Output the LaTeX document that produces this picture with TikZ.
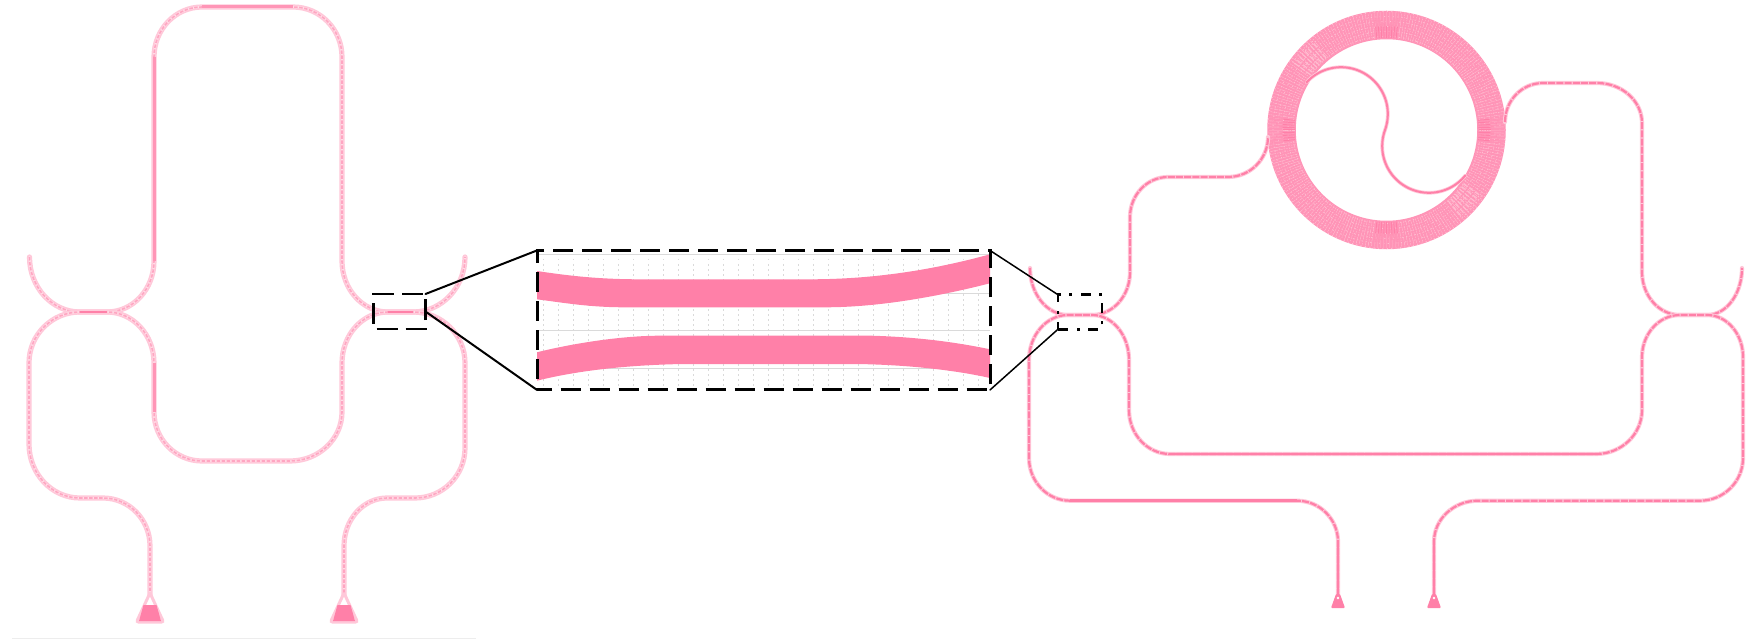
\documentclass[tikz,border=0pt]{standalone}
\usetikzlibrary{calc}
\definecolor{wgcore}{HTML}{FF80A8}
\definecolor{wghalo}{HTML}{FFC8D9}
\definecolor{wgpale}{HTML}{FFDDE7}
\definecolor{wgmid}{HTML}{FFA6C2}
\definecolor{wgstrong}{HTML}{FF95B6}
\definecolor{ringbase}{HTML}{FF94B7}
\definecolor{ringlight}{HTML}{FFBDD1}
\definecolor{gridgrey}{HTML}{DADADA}
\tikzset{
  vh/.style={to path={.. controls ($(\tikztostart)!.5523!(\tikztostart|-\tikztotarget)$) and ($(\tikztotarget)!.5523!(\tikztostart|-\tikztotarget)$) .. (\tikztotarget)}},
  hv/.style={to path={.. controls ($(\tikztostart)!.5523!(\tikztotarget|-\tikztostart)$) and ($(\tikztotarget)!.5523!(\tikztotarget|-\tikztostart)$) .. (\tikztotarget)}},
  lhalo/.style={wghalo,line width=5.2,line cap=round,line join=round},
  lpale/.style={wgpale,line width=2.2,line cap=round},
  lcore/.style={wgmid,line width=1.6,dash pattern=on 3.5 off 1.5},
  lstrong/.style={wgstrong,line width=3},
  rhalo/.style={wghalo,line width=4.2,line cap=round,line join=round},
  rcore/.style={wgcore,line width=2.2,dash pattern=on 7 off 1.2},
  rstrong/.style={wgcore,line width=2.6},
  zoomline/.style={black,line width=2,line cap=round},
  zoomthin/.style={black,line width=1.5,line cap=round},
  dashbox/.style={draw=black,line width=2.6,dash pattern=on 21 off 8,dash phase=26,inner sep=0pt,outer sep=0pt},
  bigbox/.style={draw=black,line width=3,dash pattern=on 20 off 9,dash phase=5.5,inner sep=0pt,outer sep=0pt},
  dotbox/.style={draw=black,line width=2.6,dash pattern=on 10 off 9 on 3 off 8,inner sep=0pt,outer sep=0pt},
  band/.style={fill=wgcore,draw=none},
}
\newcommand{\leftwg}[1]{\draw[lhalo] #1; \draw[lpale] #1; \draw[lcore] #1;}
\newcommand{\rightwg}[1]{\draw[rhalo] #1; \draw[rcore] #1;}
\begin{document}
\begin{tikzpicture}[x=1pt,y=-1pt]
\useasboundingbox (0,0) rectangle (1762,639);
\fill[white] (0,0) rectangle (1762,639);
\draw[black!7,line width=1] (12,638) -- (476,638);

% ---------- left device
\leftwg{(29.5,257) to[vh] (80,312) -- (107,312) to[hv] (154,261) -- (154,57) to[vh] (202,7) -- (293,7) to[hv] (342,57) -- (342,261) to[vh] (388,312) -- (413,312) to[hv] (465,257)}
\leftwg{(150,596) -- (150,546) to[vh] (103,498) -- (80,498) to[hv] (29,444) -- (29,363) to[vh] (80,312) -- (107,312) to[hv] (154,363) -- (154,412) to[vh] (202,461) -- (290,461) to[hv] (342,412) -- (342,363) to[vh] (388,312) -- (413,312) to[hv] (465,363) -- (465,448) to[vh] (415,498) -- (387,498) to[hv] (344,546) -- (344,596)}
\draw[lstrong] (154,57) -- (154,261);
\draw[lstrong] (154,363) -- (154,412);
\draw[lstrong] (202,7) -- (293,7);
\draw[wgcore,line width=1.8] (80,312) -- (107,312);
\draw[wgcore,line width=1.8] (388,312) -- (413,312);
\foreach \tx in {150,344}{
  \fill[white,draw=wghalo,line width=3,rounded corners=2] (\tx,593) -- (\tx+13.5,622) -- (\tx-13.5,622) -- cycle;
  \fill[wgcore] (\tx-6.5,605) -- (\tx+6.5,605) -- (\tx+11,621) -- (\tx-11,621) -- cycle;
}

% ---------- right device: ring
\draw[ringbase,line width=28.5] (1386.5,130) circle[radius=105];
\foreach \a in {0,1.5,...,358.5}{
  \draw[ringlight,line width=.5] ({1386.5+92*cos(\a)},{130+92*sin(\a)}) -- ({1386.5+118*cos(\a)},{130+118*sin(\a)});
}
\foreach \r in {92.5,95,...,117.5}{
  \draw[ringbase,line width=1.2,dash pattern=on 1.3 off 1.1] (1386.5,130) circle[radius=\r];
}
\foreach \r in {93.5,98.5,...,118.5}{
  \draw[ringlight,line width=.8,dash pattern=on 1.1 off 3.3] (1386.5,130) circle[radius=\r];
}
\foreach \c in {0,90,180,270}{
  \foreach \d in {-6,-4.5,...,6}{
    \draw[wgcore,line width=1] ({1386.5+92*cos(\c+\d)},{130+92*sin(\c+\d)}) -- ({1386.5+(104+abs(\d)*2.2)*cos(\c+\d)},{130+(104+abs(\d)*2.2)*sin(\c+\d)});
    \draw[wgcore!75!white,line width=.9] ({1386.5+104*cos(\c+\d)},{130+104*sin(\c+\d)}) -- ({1386.5+118*cos(\c+\d)},{130+118*sin(\c+\d)});
  }
}
\foreach \c in {-137,42}{
  \foreach \d in {-7,-5,...,7}{
    \draw[ringlight,line width=1.1,dash pattern=on 5 off 2] ({1386.5+94*cos(\c+\d)},{130+94*sin(\c+\d)}) -- ({1386.5+116*cos(\c+\d)},{130+116*sin(\c+\d)});
  }
}
\draw[wghalo,line width=3.6,line cap=round] plot[domain=-137:20,samples=50] ({1341+46.8*cos(\x)},{114+46.8*sin(\x)}) -- plot[domain=200:39,samples=50] ({1429+46.8*cos(\x)},{146+46.8*sin(\x)});
\draw[wgcore,line width=2,line cap=round] plot[domain=-137:20,samples=50] ({1341+46.8*cos(\x)},{114+46.8*sin(\x)}) -- plot[domain=200:39,samples=50] ({1429+46.8*cos(\x)},{146+46.8*sin(\x)});

% ---------- right device: guides
\rightwg{(1030,268) to[vh] (1068,315) -- (1092,315) to[hv] (1130,272) -- (1130,217) to[vh] (1168,177) -- (1228,177) to[hv] (1268,137)}
\rightwg{(1505,122) to[vh] (1543,83) -- (1597,83) to[hv] (1642,123) -- (1642,272) to[vh] (1680,315) -- (1707,315) to[hv] (1742,268)}
\rightwg{(1338,596) -- (1338,541.7) to[vh] (1297,500.7) -- (1070,500.7) to[hv] (1029,458) -- (1029,360) to[vh] (1068,315) -- (1092,315) to[hv] (1129,360) -- (1129,410) to[vh] (1170,454) -- (1596,454) to[hv] (1642,410) -- (1642,357) to[vh] (1680,315) -- (1707,315) to[hv] (1743,357) -- (1743,458) to[vh] (1700,500.7) -- (1478,500.7) to[hv] (1434,541.7) -- (1434,596)}
\draw[rstrong] (1170,454) -- (1596,454);
\draw[rstrong] (1070,500.7) -- (1297,500.7);
\draw[rstrong] (1338,541.7) -- (1338,596);
\draw[rstrong] (1434,541.7) -- (1434,596);
\foreach \tx in {1338,1434}{
  \fill[wgcore,rounded corners=1] (\tx-2,594) -- (\tx+2,594) -- (\tx+7,608) -- (\tx-7,608) -- cycle;
  \fill[white] (\tx,598) circle[radius=1.4];
}

% ---------- magnified view
\foreach \gy in {254,293,330,368}{
  \draw[gridgrey,line width=.9] (537,\gy) -- (990,\gy);
}
\foreach \i in {0,...,29}{
  \draw[gridgrey,line width=.8,dash pattern=on 1.5 off 3.5] ({543+15*\i},254) -- ({543+15*\i},388);
}
\fill[band] (537,271) .. controls (570,276) and (600,279.3) .. (640,279.3) -- (810,279.3) .. controls (880,279.3) and (940,268) .. (990,254.3) -- (990,283.3) .. controls (940,296) and (880,307.3) .. (825,307.3) -- (625,307.3) .. controls (590,307.3) and (565,303) .. (537,299.3) -- cycle;
\fill[band] (537,352.3) .. controls (570,344) and (620,335.7) .. (660,335.7) -- (871,335.7) .. controls (920,337) and (960,343) .. (990,349.3) -- (990,378) .. controls (950,369) and (900,364.5) .. (855,364) -- (683,364) .. controls (630,365) and (580,370) .. (537,380.7) -- cycle;

\node[dashbox,minimum width=52pt,minimum height=35pt] (boxL) at (399.5,311.5) {};
\node[bigbox,minimum width=453pt,minimum height=139.5pt] (boxBig) at (763.5,320.2) {};
\node[dotbox,minimum width=44pt,minimum height=34.5pt] (boxR) at (1080,312) {};
\draw[zoomline] (boxL.north east) -- (boxBig.north west);
\draw[zoomline] (boxL.east) -- (boxBig.south west);
\draw[zoomthin] (boxBig.north east) -- (boxR.north west);
\draw[zoomthin] (boxBig.south east) -- (boxR.south west);
\end{tikzpicture}
\end{document}
